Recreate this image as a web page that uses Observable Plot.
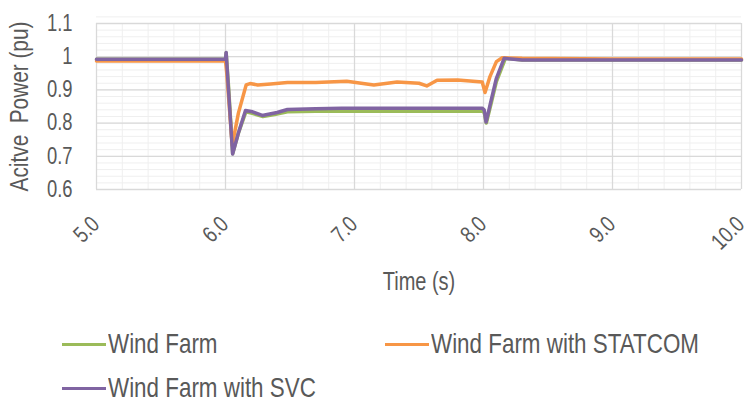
<!DOCTYPE html>
<html>
<head>
<meta charset="utf-8">
<script src="https://cdn.jsdelivr.net/npm/d3@7"></script>
<script src="https://cdn.jsdelivr.net/npm/@observablehq/plot@0.6"></script>
<style>
  html, body { margin: 0; padding: 0; background: #fff; }
  #wrap { position: relative; width: 750px; height: 403px; font-family: "Liberation Sans", Arial, sans-serif; color: #595959; overflow: hidden; }
  #legend { position: absolute; left: 0; top: 305px; width: 750px; height: 98px; }
  .item { position: absolute; display: flex; align-items: center; font-size: 28px; white-space: nowrap; }
  .sw { width: 44px; height: 3px; margin-right: 2px; flex: none; }
  .tx { display: inline-block; transform: scaleX(0.8); transform-origin: 0 50%; }
</style>
</head>
<body>
<div id="wrap"><div id="chart"></div><div id="legend"></div></div>
<script>
// Series names and colours
const seriesNames = ["Wind Farm", "Wind Farm with STATCOM", "Wind Farm with SVC"];
const seriesColors = ["#9bbb59", "#f79646", "#8064a2"];

// Wind Farm (green)
const windFarmT = [5.0, 6.0, 6.005, 6.022, 6.056, 6.1, 6.158, 6.2, 6.29, 6.38, 6.48, 6.7, 7.0, 7.5, 7.99, 8.005, 8.022, 8.06, 8.1, 8.17, 8.3, 9.0, 10.0];
const windFarmP = [0.992, 0.992, 1.012, 0.92, 0.708, 0.77, 0.834, 0.83, 0.82, 0.826, 0.834, 0.836, 0.836, 0.836, 0.836, 0.832, 0.80, 0.86, 0.925, 0.995, 0.99, 0.99, 0.99];

// Wind Farm with STATCOM (orange)
const statcomT = [5.0, 6.0, 6.01, 6.052, 6.1, 6.16, 6.19, 6.25, 6.35, 6.48, 6.7, 6.94, 7.15, 7.33, 7.5, 7.56, 7.64, 7.8, 7.99, 8.012, 8.05, 8.1, 8.145, 8.3, 9.0, 10.0];
const statcomP = [0.987, 0.987, 0.95, 0.733, 0.83, 0.915, 0.919, 0.915, 0.918, 0.922, 0.922, 0.926, 0.915, 0.924, 0.92, 0.912, 0.929, 0.93, 0.924, 0.892, 0.94, 0.985, 0.997, 0.995, 0.993, 0.993];

// Wind Farm with SVC (purple)
const svcT = [5.0, 6.0, 6.005, 6.02, 6.055, 6.1, 6.155, 6.2, 6.285, 6.4, 6.48, 6.7, 6.9, 7.5, 7.99, 8.005, 8.02, 8.06, 8.1, 8.16, 8.3, 9.0, 10.0];
const svcP = [0.992, 0.992, 1.013, 0.92, 0.707, 0.77, 0.838, 0.835, 0.823, 0.832, 0.841, 0.843, 0.845, 0.845, 0.845, 0.84, 0.803, 0.87, 0.935, 0.995, 0.99, 0.99, 0.99];

// Axis ticks and titles
const xTicks = [5, 6, 7, 8, 9, 10];
const yTicks = [0.6, 0.7, 0.8, 0.9, 1, 1.1];
const xTitle = "Time (s)";
const yTitle = "Acitve\u00a0 Power (pu)";

const toRows = (t, p, s) => t.map((v, i) => ({t: v, p: p[i], s}));
const rows = [
  ...toRows(windFarmT, windFarmP, seriesNames[0]),
  ...toRows(statcomT, statcomP, seriesNames[1]),
  ...toRows(svcT, svcP, seriesNames[2])
];

const chart = Plot.plot({
  width: 750,
  height: 305,
  marginLeft: 96,
  marginRight: 9,
  marginTop: 23,
  marginBottom: 116,
  style: {fontFamily: "'Liberation Sans', Arial, sans-serif", fontSize: "23px", color: "#595959", background: "#fff", overflow: "visible"},
  x: {domain: [5, 10]},
  y: {domain: [0.6, 1.1]},
  color: {domain: seriesNames, range: seriesColors},
  marks: [
    Plot.gridX({interval: 0.2, stroke: "#efefef", strokeOpacity: 1, strokeWidth: 1}),
    Plot.gridY({interval: 0.02, stroke: "#efefef", strokeOpacity: 1, strokeWidth: 1}),
    Plot.gridX({ticks: xTicks, stroke: "#d9d9d9", strokeOpacity: 1, strokeWidth: 1.3}),
    Plot.gridY({ticks: yTicks, stroke: "#d9d9d9", strokeOpacity: 1, strokeWidth: 1.3}),
    Plot.axisX({ticks: xTicks, tickFormat: d3.format(".1f"), tickRotate: -45, tickSize: 0, tickPadding: 31, dx: -1, label: null, fontSize: 23}),
    Plot.axisY({ticks: yTicks, tickFormat: d => String(d), tickSize: 0, tickPadding: 24, label: null, fontSize: 23}),
    Plot.text([xTitle], {frameAnchor: "bottom", dy: 100, fontSize: 25, fill: "#595959"}),
    Plot.text([yTitle], {frameAnchor: "left", textAnchor: "middle", rotate: -90, dx: -77, fontSize: 26, fill: "#595959"}),
    Plot.line(rows, {x: "t", y: "p", z: "s", stroke: "s", strokeWidth: 3.5, strokeLinejoin: "round", strokeLinecap: "round"})
  ]
});
// narrow the glyphs (reference uses a condensed face)
chart.querySelectorAll("text").forEach(el => {
  const tr = el.getAttribute("transform") || "";
  el.setAttribute("transform", tr + " scale(0.8,1)");
});
document.getElementById("chart").appendChild(chart);

// Legend (HTML, below the SVG)
const legendPos = [[62, 40], [385, 40], [62, 84]];
const legend = document.getElementById("legend");
seriesNames.forEach((name, i) => {
  const it = document.createElement("div");
  it.className = "item";
  it.style.left = legendPos[i][0] + "px";
  it.style.top = (legendPos[i][1] - 17) + "px";
  const sw = document.createElement("span");
  sw.className = "sw";
  sw.style.background = seriesColors[i];
  const tx = document.createElement("span");
  tx.className = "tx";
  tx.textContent = name;
  it.appendChild(sw);
  it.appendChild(tx);
  legend.appendChild(it);
});
</script>
</body>
</html>
